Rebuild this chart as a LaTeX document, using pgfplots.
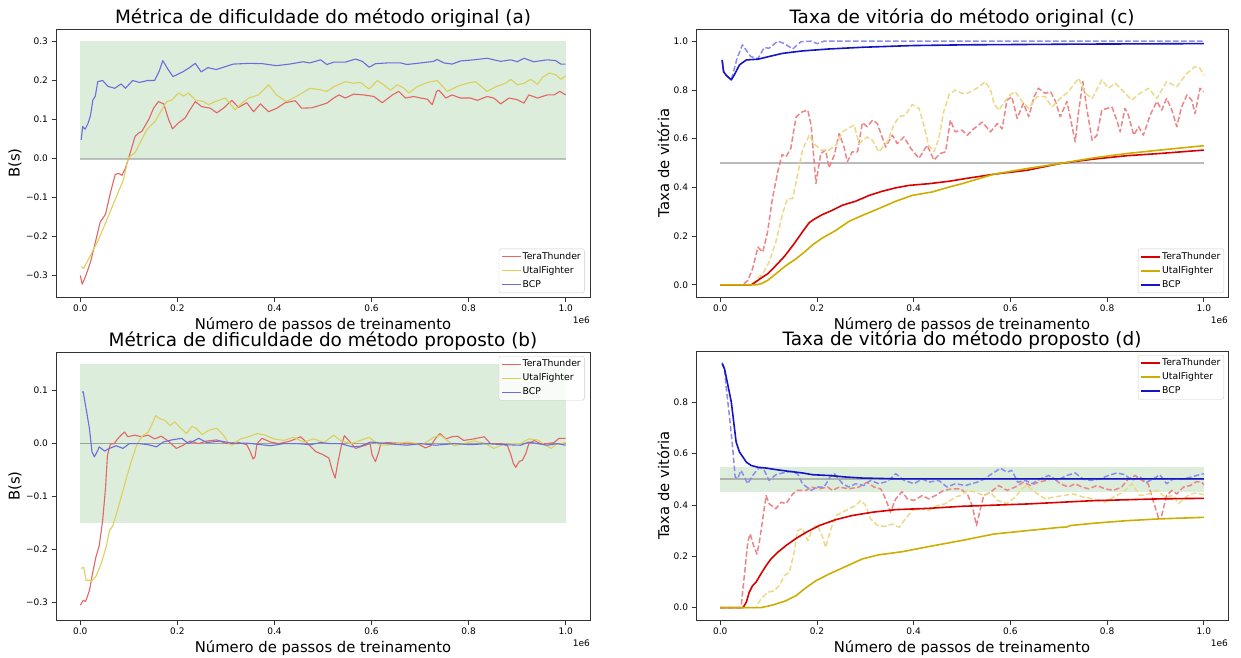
\documentclass[border=0pt]{standalone}
\usepackage{fontspec}
\setmainfont{DejaVu Sans}
\usepackage{pgfplots}
\pgfplotsset{compat=1.18}

% line colours
\definecolor{lred}{HTML}{E36565}
\definecolor{lyel}{HTML}{DDCF5C}
\definecolor{lblu}{HTML}{6C6CDC}
\definecolor{sred}{HTML}{D80000}
\definecolor{syel}{HTML}{CDAD00}
\definecolor{sblu}{HTML}{1414C8}
\definecolor{dred}{HTML}{EC8585}
\definecolor{dyel}{HTML}{EBD98A}
\definecolor{dblu}{HTML}{8C8CEC}
\definecolor{band}{HTML}{DCEDDC}
\definecolor{frame}{HTML}{333333}

\tikzset{
  offsettext/.style={anchor=north east, inner sep=0pt, font=\fontsize{9}{10}\selectfont, yshift=-20pt},
  thinline/.style={line width=1.1pt},
  thickline/.style={line width=1.6pt},
  dashline/.style={line width=1.5pt, dash pattern=on 5.5pt off 2.5pt},
}

\pgfplotsset{
  panel/.style={
    scale only axis, width=534pt, height=268pt,
    xmin=-0.05, xmax=1.05,
    clip mode=individual,
    axis line style={draw=frame, line width=0.9pt},
    tick align=outside, xtick pos=left, ytick pos=left,
    major tick length=4.5pt, tick style={frame, line width=0.8pt},
    tick label style={font=\fontsize{9}{10}\selectfont},
    xtick={0,0.2,0.4,0.6,0.8,1.0},
    xticklabels={0.0,0.2,0.4,0.6,0.8,1.0},
    title style={font=\fontsize{18.4}{22}\selectfont, at={(axis description cs:0.5,1)}, anchor=base, yshift=-0.5pt, inner sep=0pt},
    xlabel style={font=\fontsize{14.8}{17}\selectfont, at={(axis description cs:0.5,0)}, anchor=base, yshift=-32.5pt, inner sep=0pt},
    xlabel={Número de passos de treinamento},
    legend style={font=\fontsize{9.3}{11}\selectfont, draw=black!20, rounded corners=2pt,
      fill=white, fill opacity=0.8, draw opacity=1, text opacity=1, inner sep=2.5pt,
      row sep=3pt, nodes={inner sep=1pt, text height=7pt, text depth=2pt}},
    legend cell align=left,
    legend image code/.code={\draw[#1] (0pt,0pt) -- (19pt,0pt);},
    every axis plot/.append style={line join=round},
  },
}

\begin{document}
\begin{tikzpicture}

% ---------------- (a) ----------------
\begin{axis}[panel, at={(56pt,360pt)}, anchor=south west,
  ymin=-0.355, ymax=0.332,
  ytick={-0.3,-0.2,-0.1,0,0.1,0.2,0.3},
  yticklabels={−0.3,−0.2,−0.1,0.0,0.1,0.2,0.3},
  title={Métrica de dificuldade do método original (a)},
  ylabel={B(s)},
  ylabel style={font=\fontsize{14.8}{17}\selectfont, at={(axis description cs:-0.0642,0.5)}, anchor=south, inner sep=0pt},
  legend style={at={(axis description cs:1,0)}, anchor=south east, xshift=-5.5pt, yshift=4pt},
]
\addplot[draw=none, fill=band, forget plot] coordinates {(0,0) (1,0) (1,0.3) (0,0.3)} -- cycle;
\addplot[color=black!40, opacity=0.6, line width=2pt, forget plot] coordinates {(0,0) (1,0)};
\addplot[lred, thinline] coordinates {
(0,-0.30) (0.004,-0.322) (0.01,-0.305) (0.021,-0.266) (0.031,-0.215) (0.041,-0.163) (0.052,-0.143) (0.062,-0.088) (0.072,-0.041) (0.079,-0.038) (0.086,-0.043) (0.093,-0.025) (0.103,0.015) (0.113,0.057) (0.120,0.065) (0.127,0.07) (0.141,0.1) (0.151,0.129) (0.161,0.146) (0.172,0.14) (0.182,0.1) (0.19,0.076) (0.202,0.091) (0.216,0.104) (0.226,0.125) (0.237,0.146) (0.25,0.133) (0.268,0.129) (0.281,0.117) (0.295,0.129) (0.312,0.149) (0.326,0.131) (0.343,0.143) (0.357,0.12) (0.371,0.14) (0.388,0.12) (0.405,0.129) (0.422,0.143) (0.443,0.148) (0.456,0.129) (0.477,0.13) (0.498,0.138) (0.508,0.142) (0.522,0.155) (0.533,0.163) (0.546,0.155) (0.563,0.165) (0.584,0.163) (0.605,0.159) (0.622,0.143) (0.643,0.163) (0.656,0.172) (0.670,0.155) (0.687,0.159) (0.701,0.155) (0.715,0.152) (0.725,0.138) (0.734,0.172) (0.739,0.175) (0.753,0.155) (0.766,0.163) (0.783,0.155) (0.804,0.155) (0.818,0.149) (0.838,0.159) (0.852,0.155) (0.866,0.14) (0.883,0.155) (0.9,0.151) (0.914,0.142) (0.924,0.163) (0.942,0.155) (0.962,0.163) (0.976,0.163) (0.988,0.172) (1.0,0.163)};
\addlegendentry{TeraThunder}
\addplot[lyel, thinline] coordinates {
(0.002,-0.277) (0.007,-0.282) (0.017,-0.258) (0.038,-0.207) (0.058,-0.147) (0.075,-0.096) (0.089,-0.054) (0.099,0.002) (0.113,0.015) (0.123,0.04) (0.137,0.074) (0.154,0.095) (0.168,0.125) (0.178,0.146) (0.189,0.15) (0.202,0.168) (0.213,0.16) (0.223,0.168) (0.237,0.15) (0.254,0.146) (0.264,0.138) (0.278,0.146) (0.299,0.155) (0.319,0.125) (0.333,0.142) (0.347,0.155) (0.367,0.163) (0.388,0.189) (0.404,0.163) (0.424,0.146) (0.445,0.159) (0.473,0.18) (0.495,0.176) (0.508,0.172) (0.522,0.184) (0.546,0.197) (0.563,0.193) (0.577,0.195) (0.595,0.178) (0.612,0.2) (0.625,0.189) (0.639,0.175) (0.653,0.189) (0.667,0.18) (0.677,0.168) (0.694,0.184) (0.715,0.195) (0.735,0.2) (0.756,0.172) (0.777,0.185) (0.797,0.193) (0.814,0.197) (0.838,0.172) (0.856,0.184) (0.876,0.193) (0.887,0.203) (0.9,0.189) (0.914,0.193) (0.928,0.203) (0.942,0.19) (0.952,0.208) (0.966,0.219) (0.979,0.215) (0.99,0.203) (1.0,0.212)};
\addlegendentry{UtalFighter}
\addplot[lblu, thinline] coordinates {
(0.002,0.048) (0.005,0.082) (0.01,0.075) (0.016,0.09) (0.021,0.11) (0.026,0.15) (0.031,0.16) (0.036,0.197) (0.046,0.2) (0.057,0.185) (0.071,0.18) (0.084,0.191) (0.093,0.18) (0.108,0.2) (0.122,0.195) (0.139,0.2) (0.153,0.2) (0.163,0.225) (0.170,0.251) (0.18,0.23) (0.191,0.21) (0.211,0.222) (0.225,0.233) (0.237,0.244) (0.249,0.222) (0.263,0.233) (0.28,0.228) (0.315,0.242) (0.349,0.244) (0.376,0.243) (0.404,0.238) (0.431,0.242) (0.459,0.248) (0.473,0.245) (0.495,0.253) (0.508,0.241) (0.522,0.247) (0.546,0.247) (0.567,0.255) (0.581,0.249) (0.595,0.234) (0.608,0.243) (0.632,0.245) (0.66,0.245) (0.673,0.241) (0.701,0.245) (0.728,0.249) (0.735,0.254) (0.749,0.245) (0.766,0.242) (0.783,0.25) (0.811,0.253) (0.838,0.257) (0.866,0.249) (0.887,0.253) (0.9,0.248) (0.914,0.257) (0.934,0.248) (0.962,0.253) (0.979,0.251) (0.99,0.242) (1.0,0.242)};
\addlegendentry{BCP}
\node[offsettext] at (rel axis cs:1,0) {1e6};
\end{axis}

% ---------------- (b) ----------------
\begin{axis}[panel, at={(56pt,37pt)}, anchor=south west,
  ymin=-0.333, ymax=0.173,
  ytick={-0.3,-0.2,-0.1,0,0.1},
  yticklabels={−0.3,−0.2,−0.1,0.0,0.1},
  title={Métrica de dificuldade do método proposto (b)},
  ylabel={B(s)},
  ylabel style={font=\fontsize{14.8}{17}\selectfont, at={(axis description cs:-0.0642,0.5)}, anchor=south, inner sep=0pt},
  legend style={at={(axis description cs:1,1)}, anchor=north east, xshift=-5.5pt, yshift=-4pt},
]
\addplot[draw=none, fill=band, forget plot] coordinates {(0,-0.15) (1,-0.15) (1,0.15) (0,0.15)} -- cycle;
\addplot[color=black!55, opacity=0.6, line width=1.2pt, forget plot] coordinates {(0,0) (1,0)};
\addplot[lred, thinline] coordinates {
(0,-0.305) (0.006,-0.296) (0.011,-0.298) (0.019,-0.277) (0.025,-0.246) (0.032,-0.215) (0.039,-0.193) (0.046,-0.146) (0.052,-0.084) (0.056,-0.022) (0.062,-0.001) (0.07,0.0) (0.077,0.009) (0.084,0.016) (0.091,0.022) (0.098,0.013) (0.112,0.016) (0.126,0.013) (0.14,0.016) (0.153,0.009) (0.167,0.014) (0.181,0.005) (0.198,-0.009) (0.212,-0.003) (0.226,0.005) (0.243,0.0) (0.261,0.005) (0.281,0.007) (0.302,0.0) (0.323,0.003) (0.343,-0.002) (0.35,-0.015) (0.356,-0.029) (0.36,-0.025) (0.364,0.0) (0.374,0.01) (0.392,0.003) (0.409,0.0) (0.433,0.005) (0.454,0.013) (0.471,-0.002) (0.485,-0.015) (0.498,-0.02) (0.512,-0.027) (0.519,-0.05) (0.525,-0.065) (0.531,-0.034) (0.538,-0.003) (0.544,0.015) (0.553,0.006) (0.567,-0.009) (0.584,-0.004) (0.597,0.0) (0.601,-0.021) (0.608,-0.034) (0.615,-0.015) (0.619,0.0) (0.632,0.002) (0.653,0.001) (0.673,0.0) (0.694,0.0) (0.711,-0.008) (0.722,-0.004) (0.732,0.01) (0.741,0.019) (0.753,0.009) (0.766,0.013) (0.777,0.014) (0.79,0.006) (0.811,0.009) (0.832,0.013) (0.845,0.0) (0.866,0.0) (0.88,-0.004) (0.887,-0.021) (0.892,-0.037) (0.897,-0.045) (0.904,-0.034) (0.911,-0.031) (0.918,-0.018) (0.924,0.0) (0.935,0.006) (0.948,0.0) (0.962,0.0) (0.976,0.002) (0.986,0.01) (1.0,0.01)};
\addlegendentry{TeraThunder}
\addplot[lyel, thinline] coordinates {
(0.002,-0.236) (0.007,-0.233) (0.012,-0.258) (0.025,-0.258) (0.032,-0.251) (0.043,-0.227) (0.053,-0.196) (0.06,-0.165) (0.067,-0.155) (0.074,-0.134) (0.084,-0.102) (0.095,-0.065) (0.105,-0.034) (0.115,-0.006) (0.126,0.013) (0.14,0.022) (0.15,0.041) (0.155,0.053) (0.164,0.047) (0.174,0.044) (0.185,0.034) (0.195,0.041) (0.205,0.031) (0.219,0.019) (0.23,0.033) (0.24,0.028) (0.251,0.017) (0.264,0.025) (0.281,0.029) (0.295,0.016) (0.306,0.0) (0.312,-0.003) (0.33,0.009) (0.347,0.013) (0.364,0.019) (0.381,0.016) (0.398,0.009) (0.419,0.006) (0.44,0.012) (0.46,0.003) (0.481,0.009) (0.502,0.002) (0.522,0.016) (0.536,0.006) (0.557,0.0) (0.577,0.006) (0.595,0.012) (0.615,-0.002) (0.632,-0.003) (0.653,0.0) (0.673,0.003) (0.694,0.0) (0.708,0.0) (0.728,0.012) (0.742,0.016) (0.756,0.006) (0.77,-0.004) (0.79,0.0) (0.811,0.005) (0.832,0.001) (0.852,-0.009) (0.87,-0.002) (0.89,0.0) (0.907,0.0) (0.924,0.009) (0.942,0.007) (0.956,-0.002) (0.97,-0.009) (0.98,-0.002) (0.99,0.0) (1.0,0.002)};
\addlegendentry{UtalFighter}
\addplot[lblu, thinline] coordinates {
(0.004,0.097) (0.006,0.098) (0.012,0.066) (0.019,0.028) (0.024,-0.015) (0.029,-0.025) (0.036,-0.013) (0.039,-0.006) (0.05,-0.014) (0.06,-0.009) (0.074,-0.004) (0.088,-0.009) (0.101,0.0) (0.122,0.0) (0.14,-0.002) (0.157,-0.006) (0.171,0.003) (0.188,0.007) (0.209,0.01) (0.223,0.0) (0.244,0.01) (0.261,0.002) (0.288,0.005) (0.316,0.0) (0.343,0.001) (0.364,-0.001) (0.392,-0.004) (0.419,0.0) (0.447,0.0) (0.474,-0.002) (0.495,0.002) (0.515,0.0) (0.536,0.0) (0.56,-0.006) (0.577,-0.005) (0.598,0.003) (0.632,0.0) (0.673,-0.003) (0.701,0.0) (0.732,-0.003) (0.77,0.0) (0.804,-0.002) (0.838,0.0) (0.873,-0.002) (0.907,-0.003) (0.924,0.003) (0.942,0.0) (0.962,-0.003) (0.983,0.0) (1.0,-0.003)};
\addlegendentry{BCP}
\node[offsettext] at (rel axis cs:1,0) {1e6};
\end{axis}

% ---------------- (c) ----------------
\begin{axis}[panel, width=532pt, at={(696pt,360pt)}, anchor=south west,
  ymin=-0.05, ymax=1.05,
  ytick={0,0.2,0.4,0.6,0.8,1.0},
  yticklabels={0.0,0.2,0.4,0.6,0.8,1.0},
  title={Taxa de vitória do método original (c)},
  ylabel={Taxa de vitória},
  ylabel style={font=\fontsize{14.8}{17}\selectfont, at={(axis description cs:-0.0498,0.5)}, anchor=south, inner sep=0pt},
  legend style={at={(axis description cs:1,0)}, anchor=south east, xshift=-4pt, yshift=4pt},
]
\addplot[color=black!45, opacity=0.6, line width=1.5pt, forget plot] coordinates {(0,0.5) (1,0.5)};
% moving averages (dashed)
\addplot[dred, dashline, forget plot] coordinates {
(0,0) (0.047,0) (0.057,0.018) (0.067,0.066) (0.078,0.155) (0.088,0.134) (0.098,0.217) (0.108,0.354) (0.119,0.464) (0.128,0.535) (0.136,0.525) (0.146,0.56) (0.157,0.69) (0.17,0.71) (0.181,0.717) (0.188,0.656) (0.198,0.416) (0.208,0.539) (0.218,0.553) (0.225,0.48) (0.236,0.533) (0.246,0.621) (0.256,0.566) (0.263,0.505) (0.273,0.546) (0.284,0.546) (0.294,0.666) (0.304,0.649) (0.315,0.676) (0.325,0.662) (0.342,0.566) (0.356,0.614) (0.366,0.58) (0.38,0.607) (0.394,0.56) (0.411,0.519) (0.428,0.573) (0.442,0.512) (0.455,0.539) (0.466,0.546) (0.476,0.676) (0.486,0.628) (0.5,0.635) (0.511,0.614) (0.524,0.64) (0.542,0.668) (0.559,0.628) (0.573,0.662) (0.583,0.64) (0.593,0.758) (0.603,0.772) (0.614,0.683) (0.627,0.745) (0.638,0.69) (0.649,0.772) (0.658,0.807) (0.672,0.786) (0.683,0.793) (0.693,0.754) (0.703,0.69) (0.717,0.753) (0.727,0.656) (0.734,0.587) (0.741,0.71) (0.75,0.834) (0.758,0.724) (0.769,0.593) (0.779,0.614) (0.789,0.717) (0.8,0.724) (0.81,0.73) (0.82,0.676) (0.827,0.628) (0.837,0.724) (0.844,0.697) (0.855,0.614) (0.865,0.649) (0.875,0.614) (0.889,0.697) (0.903,0.753) (0.913,0.717) (0.923,0.765) (0.934,0.717) (0.944,0.649) (0.954,0.73) (0.965,0.779) (0.975,0.758) (0.982,0.703) (0.992,0.807) (1.0,0.793)};
\addplot[dyel, dashline, forget plot] coordinates {
(0,0) (0.064,0) (0.074,0.018) (0.088,0.045) (0.101,0.093) (0.115,0.175) (0.129,0.292) (0.139,0.354) (0.15,0.354) (0.16,0.45) (0.17,0.553) (0.184,0.614) (0.194,0.58) (0.208,0.553) (0.225,0.553) (0.239,0.573) (0.253,0.628) (0.277,0.656) (0.287,0.58) (0.304,0.607) (0.315,0.593) (0.328,0.546) (0.346,0.587) (0.359,0.656) (0.37,0.69) (0.383,0.697) (0.397,0.74) (0.411,0.724) (0.421,0.656) (0.431,0.573) (0.442,0.546) (0.452,0.6) (0.462,0.71) (0.473,0.779) (0.486,0.8) (0.5,0.786) (0.511,0.786) (0.531,0.807) (0.548,0.834) (0.559,0.8) (0.566,0.745) (0.576,0.717) (0.586,0.745) (0.599,0.779) (0.61,0.793) (0.624,0.753) (0.638,0.724) (0.655,0.772) (0.672,0.772) (0.686,0.73) (0.703,0.765) (0.72,0.793) (0.741,0.848) (0.755,0.786) (0.769,0.765) (0.789,0.841) (0.803,0.807) (0.817,0.827) (0.834,0.793) (0.851,0.758) (0.868,0.786) (0.886,0.807) (0.903,0.765) (0.923,0.834) (0.944,0.813) (0.965,0.868) (0.982,0.896) (0.992,0.889) (1.0,0.861)};
\addplot[dblu, dashline, forget plot] coordinates {
(0.004,0.923) (0.007,0.875) (0.012,0.861) (0.023,0.841) (0.035,0.93) (0.046,0.985) (0.063,0.937) (0.078,0.928) (0.091,0.974) (0.101,0.971) (0.119,1.0) (0.133,0.99) (0.15,0.968) (0.167,0.998) (0.188,1.0) (0.201,0.99) (0.215,1.0) (1.0,1.0)};
% cumulative win rate (solid)
\addplot[sred, thickline] coordinates {
(0,0) (0.064,0.0) (0.071,0.008) (0.084,0.027) (0.098,0.045) (0.115,0.079) (0.133,0.117) (0.153,0.169) (0.17,0.217) (0.184,0.255) (0.194,0.269) (0.211,0.288) (0.232,0.306) (0.253,0.327) (0.28,0.343) (0.308,0.367) (0.335,0.384) (0.363,0.398) (0.39,0.408) (0.431,0.415) (0.473,0.425) (0.507,0.436) (0.566,0.454) (0.634,0.47) (0.703,0.498) (0.772,0.516) (0.841,0.53) (0.909,0.539) (1.0,0.553)};
\addlegendentry{TeraThunder}
\addplot[syel, thickline] coordinates {
(0,0) (0.074,0.0) (0.084,0.004) (0.098,0.018) (0.115,0.045) (0.136,0.079) (0.157,0.107) (0.174,0.134) (0.191,0.164) (0.211,0.192) (0.239,0.223) (0.266,0.26) (0.294,0.285) (0.328,0.313) (0.363,0.343) (0.397,0.367) (0.438,0.381) (0.473,0.401) (0.5,0.415) (0.566,0.454) (0.634,0.477) (0.703,0.498) (0.772,0.521) (0.841,0.539) (0.909,0.553) (1.0,0.571)};
\addlegendentry{UtalFighter}
\addplot[sblu, thickline] coordinates {
(0.004,0.923) (0.007,0.875) (0.012,0.861) (0.023,0.841) (0.029,0.861) (0.04,0.903) (0.054,0.923) (0.078,0.926) (0.101,0.937) (0.129,0.95) (0.17,0.96) (0.225,0.968) (0.294,0.975) (0.397,0.982) (0.507,0.985) (0.75,0.988) (1.0,0.99)};
\addlegendentry{BCP}
\node[offsettext] at (rel axis cs:1,0) {1e6};
\end{axis}

% ---------------- (d) ----------------
\begin{axis}[panel, width=532pt, height=269pt, at={(696pt,37pt)}, anchor=south west,
  ymin=-0.048, ymax=1.0,
  ytick={0,0.2,0.4,0.6,0.8},
  yticklabels={0.0,0.2,0.4,0.6,0.8},
  title={Taxa de vitória do método proposto (d)},
  ylabel={Taxa de vitória},
  ylabel style={font=\fontsize{14.8}{17}\selectfont, at={(axis description cs:-0.0498,0.5)}, anchor=south, inner sep=0pt},
  legend style={at={(axis description cs:1,1)}, anchor=north east, xshift=-4pt, yshift=-4pt},
]
\addplot[draw=none, fill=band, forget plot] coordinates {(0,0.45) (1,0.45) (1,0.55) (0,0.55)} -- cycle;
\addplot[color=black!45, opacity=0.6, line width=2pt, forget plot] coordinates {(0,0.5) (1,0.5)};
% moving averages (dashed)
\addplot[dred, dashline, forget plot] coordinates {
(0,0) (0.043,0) (0.05,0.125) (0.057,0.255) (0.062,0.288) (0.069,0.242) (0.076,0.209) (0.081,0.255) (0.088,0.346) (0.095,0.437) (0.101,0.405) (0.115,0.385) (0.126,0.411) (0.136,0.405) (0.15,0.443) (0.16,0.457) (0.178,0.457) (0.188,0.47) (0.205,0.463) (0.222,0.47) (0.232,0.457) (0.246,0.47) (0.266,0.463) (0.287,0.47) (0.304,0.489) (0.318,0.47) (0.332,0.463) (0.342,0.424) (0.352,0.372) (0.363,0.424) (0.376,0.452) (0.387,0.424) (0.401,0.418) (0.418,0.437) (0.431,0.424) (0.445,0.437) (0.462,0.457) (0.48,0.463) (0.497,0.463) (0.511,0.443) (0.521,0.398) (0.53,0.32) (0.538,0.385) (0.545,0.437) (0.559,0.45) (0.576,0.476) (0.593,0.457) (0.61,0.47) (0.627,0.489) (0.641,0.476) (0.658,0.489) (0.675,0.496) (0.689,0.505) (0.703,0.483) (0.72,0.47) (0.734,0.483) (0.748,0.47) (0.762,0.463) (0.779,0.476) (0.796,0.463) (0.813,0.457) (0.83,0.47) (0.844,0.502) (0.858,0.515) (0.872,0.496) (0.885,0.483) (0.896,0.411) (0.906,0.352) (0.913,0.36) (0.923,0.437) (0.934,0.457) (0.944,0.443) (0.958,0.47) (0.972,0.476) (0.985,0.491) (0.996,0.489) (1.0,0.478)};
\addplot[dyel, dashline, forget plot] coordinates {
(0,0) (0.074,0) (0.084,0.034) (0.098,0.06) (0.112,0.066) (0.122,0.086) (0.133,0.125) (0.143,0.138) (0.153,0.216) (0.16,0.3) (0.17,0.309) (0.181,0.261) (0.191,0.307) (0.201,0.322) (0.212,0.274) (0.218,0.235) (0.229,0.307) (0.239,0.359) (0.253,0.372) (0.266,0.385) (0.28,0.398) (0.291,0.418) (0.301,0.398) (0.311,0.346) (0.325,0.32) (0.342,0.317) (0.356,0.326) (0.37,0.313) (0.383,0.346) (0.397,0.379) (0.414,0.385) (0.431,0.379) (0.449,0.398) (0.466,0.405) (0.486,0.431) (0.497,0.437) (0.511,0.457) (0.528,0.45) (0.545,0.437) (0.559,0.45) (0.573,0.418) (0.593,0.405) (0.61,0.431) (0.624,0.463) (0.634,0.476) (0.651,0.45) (0.672,0.424) (0.689,0.431) (0.71,0.437) (0.73,0.443) (0.751,0.431) (0.772,0.424) (0.796,0.411) (0.813,0.431) (0.834,0.45) (0.851,0.483) (0.868,0.437) (0.885,0.443) (0.903,0.457) (0.92,0.431) (0.937,0.437) (0.948,0.405) (0.958,0.424) (0.972,0.443) (0.985,0.447) (1.0,0.44)};
\addplot[dblu, dashline, forget plot] coordinates {
(0.004,0.955) (0.009,0.93) (0.012,0.866) (0.019,0.749) (0.026,0.619) (0.031,0.509) (0.036,0.502) (0.043,0.535) (0.05,0.509) (0.057,0.483) (0.067,0.515) (0.081,0.547) (0.091,0.535) (0.101,0.496) (0.115,0.518) (0.129,0.525) (0.146,0.531) (0.16,0.522) (0.17,0.483) (0.188,0.457) (0.201,0.47) (0.215,0.47) (0.229,0.515) (0.236,0.522) (0.253,0.483) (0.266,0.47) (0.28,0.483) (0.297,0.476) (0.311,0.496) (0.328,0.483) (0.346,0.492) (0.363,0.522) (0.38,0.496) (0.401,0.483) (0.418,0.502) (0.431,0.489) (0.452,0.496) (0.469,0.47) (0.486,0.483) (0.507,0.476) (0.531,0.489) (0.545,0.5) (0.562,0.522) (0.573,0.535) (0.579,0.544) (0.593,0.528) (0.603,0.535) (0.615,0.489) (0.631,0.496) (0.645,0.483) (0.662,0.502) (0.679,0.515) (0.696,0.496) (0.717,0.515) (0.734,0.525) (0.751,0.5) (0.768,0.496) (0.786,0.502) (0.803,0.515) (0.82,0.525) (0.837,0.518) (0.851,0.496) (0.868,0.509) (0.882,0.489) (0.896,0.502) (0.909,0.518) (0.923,0.483) (0.937,0.502) (0.954,0.5) (0.972,0.508) (0.985,0.515) (1.0,0.522)};
% cumulative win rate (solid)
\addplot[sred, thickline] coordinates {
(0,0) (0.047,0) (0.054,0.021) (0.06,0.06) (0.067,0.086) (0.074,0.099) (0.084,0.131) (0.095,0.164) (0.105,0.19) (0.119,0.216) (0.136,0.242) (0.157,0.27) (0.178,0.294) (0.205,0.32) (0.239,0.343) (0.273,0.359) (0.315,0.372) (0.363,0.382) (0.431,0.387) (0.5,0.395) (0.634,0.404) (0.772,0.417) (0.909,0.424) (1.0,0.426)};
\addlegendentry{TeraThunder}
\addplot[syel, thickline] coordinates {
(0,0) (0.084,0) (0.108,0.01) (0.136,0.027) (0.157,0.047) (0.178,0.079) (0.198,0.105) (0.225,0.131) (0.26,0.161) (0.294,0.19) (0.328,0.206) (0.376,0.218) (0.431,0.238) (0.5,0.262) (0.566,0.287) (0.634,0.3) (0.703,0.313) (0.716,0.314) (0.724,0.32) (0.772,0.329) (0.841,0.339) (0.909,0.346) (1.0,0.352)};
\addlegendentry{UtalFighter}
\addplot[sblu, thickline] coordinates {
(0.004,0.951) (0.009,0.93) (0.016,0.866) (0.023,0.801) (0.028,0.723) (0.033,0.645) (0.04,0.606) (0.047,0.587) (0.054,0.567) (0.064,0.554) (0.078,0.547) (0.095,0.544) (0.115,0.538) (0.143,0.531) (0.17,0.525) (0.191,0.518) (0.225,0.515) (0.26,0.509) (0.294,0.505) (0.363,0.502) (0.5,0.502) (1.0,0.502)};
\addlegendentry{BCP}
\node[offsettext] at (rel axis cs:1,0) {1e6};
\end{axis}

\pgfresetboundingbox
\path[use as bounding box] (0pt,0pt) rectangle (1241pt,657pt);
\end{tikzpicture}
\end{document}
